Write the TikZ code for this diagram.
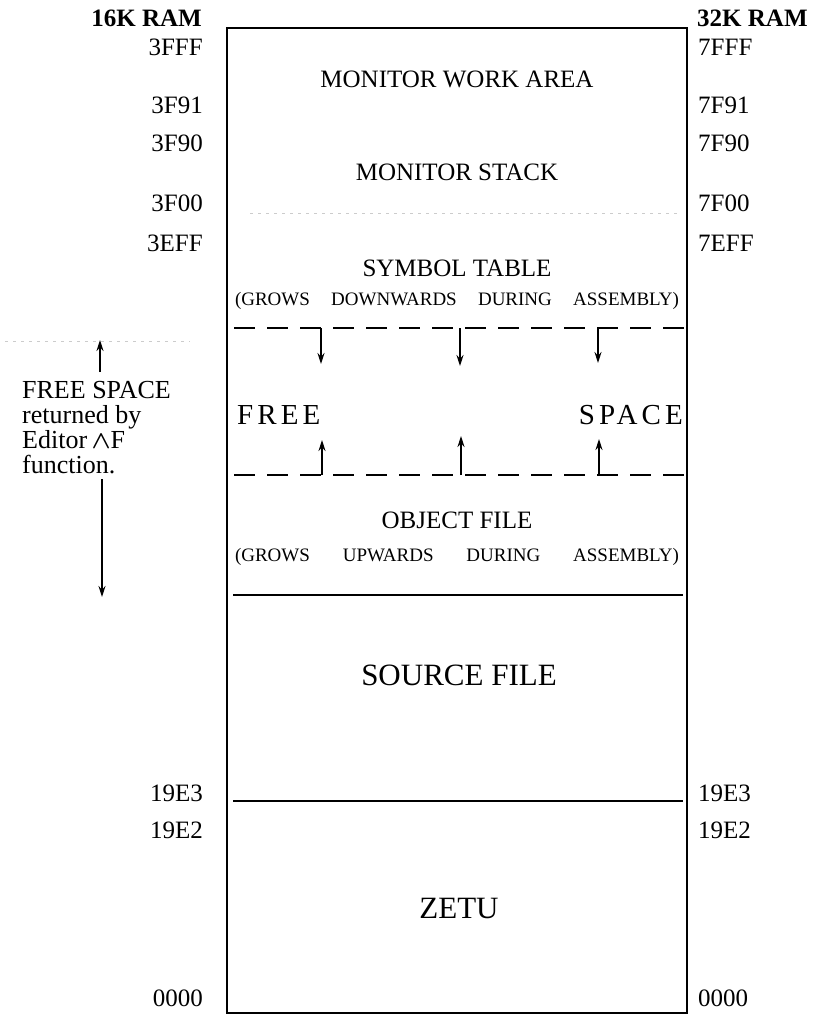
\documentclass[tikz,border=0pt]{standalone}
\usepackage{amsmath}
\usepackage{fontspec}
\setmainfont{Liberation Serif}
\newfontfamily\spacedfont[LetterSpace=14]{Liberation Serif}
\usetikzlibrary{arrows.meta}
\begin{document}
\begin{tikzpicture}[x=1pt,y=-1pt,
  lbl/.style={inner sep=0pt, font=\fontsize{25}{27}\selectfont},
  llbl/.style={lbl, anchor=east},
  rlbl/.style={lbl, anchor=west},
  head/.style={inner sep=0pt, font=\fontsize{25}{27}\selectfont\bfseries},
  region/.style={inner sep=0pt, font=\fontsize{25}{27}\selectfont},
  bigregion/.style={inner sep=0pt, font=\fontsize{31}{33}\selectfont},
  freelbl/.style={inner sep=0pt, font=\fontsize{29}{31}\spacedfont},
  grows/.style={inner sep=0pt, font=\fontsize{19}{21}\selectfont},
  note/.style={inner sep=0pt, anchor=north west, align=left, font=\fontsize{26}{25}\selectfont},
  frame/.style={line width=2pt},
  divider/.style={line width=1.2pt},
  dashdiv/.style={line width=1.4pt, dash pattern=on 21pt off 12pt},
  faint/.style={gray!40, line width=0.8pt, dash pattern=on 3pt off 5pt},
  growarrow/.style={line width=1.5pt, -{Stealth[length=11pt,width=7pt]}},
  pointer/.style={line width=1.5pt, -{Stealth[length=11pt,width=7pt]}},
]
\useasboundingbox (0,0) rectangle (822,1018);

% frame
\draw[frame] (227,28) rectangle (687,1013);

% headings
\node[head, anchor=east] (h16) at (202,18) {16K RAM};
\node[head, anchor=west] (h32) at (697,18) {32K RAM};

% left addresses
\node[llbl] (l3fff) at (203,47) {3FFF};
\node[llbl] (l3f91) at (203,105) {3F91};
\node[llbl] (l3f90) at (203,143) {3F90};
\node[llbl] (l3f00) at (203,203) {3F00};
\node[llbl] (l3eff) at (203,243) {3EFF};
\node[llbl] (l19e3) at (203,793) {19E3};
\node[llbl] (l19e2) at (203,830) {19E2};
\node[llbl] (l0000) at (203,998) {0000};

% right addresses
\node[rlbl] (r7fff) at (698,47) {7FFF};
\node[rlbl] (r7f91) at (698,105) {7F91};
\node[rlbl] (r7f90) at (698,143) {7F90};
\node[rlbl] (r7f00) at (698,203) {7F00};
\node[rlbl] (r7eff) at (698,243) {7EFF};
\node[rlbl] (r19e3) at (698,793) {19E3};
\node[rlbl] (r19e2) at (698,830) {19E2};
\node[rlbl] (r0000) at (698,998) {0000};

% region labels
\node[region] (mwa) at (457,79) {MONITOR WORK AREA};
\node[region] (mst) at (457,172) {MONITOR STACK};
\node[region] (sym) at (457,268) {SYMBOL TABLE};
\node[grows] (gdown) at (457,301) {\hbox to 444pt{(GROWS\hfill DOWNWARDS\hfill DURING\hfill ASSEMBLY)}};
\node[freelbl, anchor=west] (free) at (237,415) {FREE};
\node[freelbl, anchor=east] (space) at (683,415) {SPACE};
\node[region] (obj) at (457,520) {OBJECT FILE};
\node[grows] (gup) at (457,557) {\hbox to 444pt{(GROWS\hfill UPWARDS\hfill DURING\hfill ASSEMBLY)}};
\node[bigregion] (src) at (459,675) {SOURCE FILE};
\node[bigregion] (zetu) at (459,908) {ZETU};

% faint boundary
\draw[faint] (250,213) -- (680,213);

% dividers
\draw[dashdiv] (234,328) -- (684,328);
\draw[dashdiv] (234,475) -- (684,475);
\draw[divider] (233,595) -- (683,595);
\draw[divider] (233,801) -- (683,801);

% growth arrows
\coordinate (d1s) at (321,328); \coordinate (d1e) at (321,364);
\coordinate (d2s) at (460,328); \coordinate (d2e) at (460,366);
\coordinate (d3s) at (598,328); \coordinate (d3e) at (598,363);
\draw[growarrow] (d1s) -- (d1e);
\draw[growarrow] (d2s) -- (d2e);
\draw[growarrow] (d3s) -- (d3e);
\coordinate (u1s) at (322,475); \coordinate (u1e) at (322,440);
\coordinate (u2s) at (461,475); \coordinate (u2e) at (461,436);
\coordinate (u3s) at (599,475); \coordinate (u3e) at (599,439);
\draw[growarrow] (u1s) -- (u1e);
\draw[growarrow] (u2s) -- (u2e);
\draw[growarrow] (u3s) -- (u3e);

% left note
\draw[faint] (5,341) -- (190,341);
\node[note] (fs) at (22,381) {FREE SPACE\\returned by\\Editor\,$\boldsymbol{\wedge}$F\\function.};
\coordinate (pu0) at (100,372); \coordinate (pu1) at (100,340);
\draw[pointer] (pu0) -- (pu1);
\coordinate (pd0) at (102,479); \coordinate (pd1) at (102,597);
\draw[pointer] (pd0) -- (pd1);
\end{tikzpicture}
\end{document}
